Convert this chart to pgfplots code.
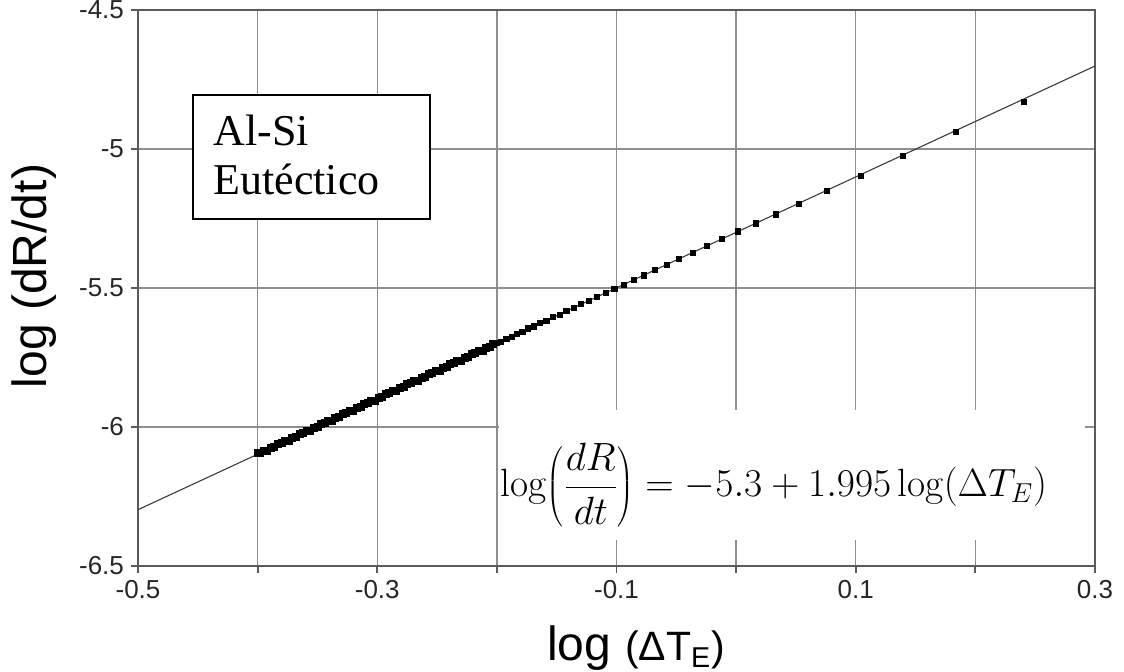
\documentclass[border=0pt]{standalone}
\usepackage{fontspec}
\setmainfont{Liberation Sans}
\newfontfamily\serifont{Liberation Serif}
\newfontfamily\lmroman{Latin Modern Roman}
\usepackage{pgfplots}
\pgfplotsset{compat=1.18}
\definecolor{framegray}{HTML}{5A5A5A}
\definecolor{gridgray}{HTML}{8E8E8E}
\definecolor{fitgray}{HTML}{3A3A3A}
\newcommand{\uplog}{\mbox{\lmroman log}}

\begin{document}
\begin{tikzpicture}
\useasboundingbox (-69pt,-53pt) rectangle (493pt,283pt);
\begin{axis}[
  at={(0,0)}, anchor=south west,
  scale only axis, width=478.5pt, height=278pt,
  xmin=-0.5, xmax=0.3, ymin=-6.5, ymax=-4.5,
  xtick={-0.5,-0.4,-0.3,-0.2,-0.1,0,0.1,0.2,0.3},
  xticklabels={-0.5,,-0.3,,-0.1,,0.1,,0.3},
  ytick={-6.5,-6,-5.5,-5,-4.5},
  yticklabels={-6.5,-6,-5.5,-5,-4.5},
  xtick pos=bottom, ytick pos=left,
  tick align=outside, major tick length=3.5pt,
  grid=major,
  major grid style={gridgray, line width=0.65pt},
  axis line style={framegray, line width=1pt},
  tick style={framegray, line width=0.9pt},
  tick label style={font=\fontsize{13}{13}\selectfont, text=black!85},
  clip=false,
]
% white panel behind the regression equation
\fill[white] (axis cs:-0.198,-5.939) rectangle (axis cs:0.2918,-6.406);

% regression line  log(dR/dt) = -5.3 + 1.995 log(dT_E)
\addplot[fitgray, line width=0.55pt, no marks] coordinates {(-0.5,-6.2975) (0.3,-4.7015)};

% measured points, sparse part
\addplot[only marks, mark=square*, mark size=1.3pt, black] coordinates {
(0.2409,-4.8314) (0.1838,-4.9393) (0.1392,-5.0263) (0.1044,-5.0957) (0.0757,-5.1520)
(0.0528,-5.1967) (0.0333,-5.2356) (0.0166,-5.2679) (0.0018,-5.2964) (-0.0116,-5.3241)
(-0.0246,-5.3481) (-0.0364,-5.3736) (-0.0476,-5.3940) (-0.0580,-5.4167) (-0.0678,-5.4343)
(-0.0770,-5.4546) (-0.0857,-5.4700) (-0.0939,-5.4883) (-0.1017,-5.5019) (-0.1091,-5.5187)
(-0.1162,-5.5308) (-0.1230,-5.5464) (-0.1295,-5.5574) (-0.1358,-5.5719) (-0.1418,-5.5819)
(-0.1476,-5.5955) (-0.1532,-5.6046) (-0.1586,-5.6174) (-0.1638,-5.6258) (-0.1689,-5.6380)
(-0.1738,-5.6457) (-0.1786,-5.6573) (-0.1832,-5.6645) (-0.1877,-5.6755) (-0.1920,-5.6820)
(-0.1963,-5.6926) (-0.2004,-5.6988)
};
% measured points, dense part
\addplot[only marks, mark=square*, mark size=1.75pt, black] coordinates {
(-0.203,-5.7020) (-0.206,-5.7130) (-0.209,-5.7160) (-0.212,-5.7259) (-0.215,-5.7269)
(-0.218,-5.7349) (-0.221,-5.7379) (-0.224,-5.7489) (-0.227,-5.7519) (-0.230,-5.7619)
(-0.233,-5.7628) (-0.236,-5.7708) (-0.239,-5.7738) (-0.242,-5.7848) (-0.245,-5.7878)
(-0.248,-5.7978) (-0.251,-5.7987) (-0.254,-5.8067) (-0.257,-5.8097) (-0.260,-5.8207)
(-0.263,-5.8237) (-0.266,-5.8337) (-0.269,-5.8347) (-0.272,-5.8426) (-0.275,-5.8456)
(-0.278,-5.8566) (-0.281,-5.8596) (-0.284,-5.8696) (-0.287,-5.8706) (-0.290,-5.8786)
(-0.293,-5.8815) (-0.296,-5.8925) (-0.299,-5.8955) (-0.302,-5.9055) (-0.305,-5.9065)
(-0.308,-5.9145) (-0.311,-5.9174) (-0.314,-5.9284) (-0.317,-5.9314) (-0.320,-5.9414)
(-0.323,-5.9424) (-0.326,-5.9504) (-0.329,-5.9534) (-0.332,-5.9643) (-0.335,-5.9673)
(-0.338,-5.9773) (-0.341,-5.9783) (-0.344,-5.9863) (-0.347,-5.9893) (-0.350,-6.0003)
(-0.353,-6.0032) (-0.356,-6.0132) (-0.359,-6.0142) (-0.362,-6.0222) (-0.365,-6.0252)
(-0.368,-6.0362) (-0.371,-6.0391) (-0.374,-6.0491) (-0.377,-6.0501) (-0.380,-6.0581)
(-0.383,-6.0611) (-0.386,-6.0721) (-0.389,-6.0751) (-0.392,-6.0850) (-0.395,-6.0860)
(-0.398,-6.0920) (-0.400,-6.0940)
};

% alloy label
\draw[fill=white, line width=0.8pt] (axis cs:-0.454,-4.806) rectangle (axis cs:-0.256,-5.252);
\node[anchor=base west, inner sep=0pt, font=\serifont\fontsize{22}{22}\selectfont]
  at (axis cs:-0.4373,-4.989) {Al-Si};
\node[anchor=base west, inner sep=0pt, font=\serifont\fontsize{22}{22}\selectfont]
  at (axis cs:-0.4373,-5.1655) {Eutéctico};

% regression equation
\node[font=\fontsize{20.74}{20.74}\selectfont] at (axis cs:0.0317,-6.2086)
  {\scalebox{0.95}{$\displaystyle \uplog\!\left(\frac{dR}{dt}\right) = -5.3 + 1.995\,\uplog(\Delta T_E)$}};

% axis titles
\node[rotate=90, anchor=base, inner sep=0pt, font=\fontsize{24}{24}\selectfont]
  at ([xshift=-45.5pt]rel axis cs:0,0.5216) {log (dR/dt)};
\node[anchor=base, inner sep=0pt]
  at ([yshift=-47.5pt]rel axis cs:0.5204,0)
  {{\fontsize{24}{24}\selectfont log}\hspace{7pt}{\fontsize{20.5}{20.5}\selectfont (ΔT\textsubscript{E})}};
\end{axis}
\end{tikzpicture}
\end{document}
